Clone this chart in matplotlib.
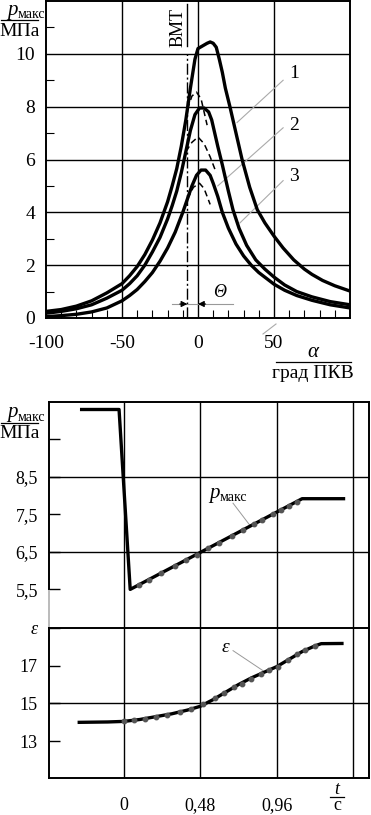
import matplotlib
matplotlib.use('Agg')
import matplotlib.pyplot as plt
from matplotlib.lines import Line2D

plt.rcParams['font.family'] = ['Liberation Serif', 'DejaVu Serif']

W, H = 371, 815

# --- верхний график: давление по углу ПКВ ---
alpha_1 = [-100, -90, -80, -70, -60, -50, -45, -40, -35, -30, -25, -20, -17, -14, -11, -8, -5, -2, 0, 3, 6, 8, 10, 12, 14, 16, 18, 21, 25, 29, 34, 39, 44, 50, 56, 63, 70, 75, 82, 90, 100]
p_1 = [0.25, 0.32, 0.45, 0.65, 0.95, 1.3, 1.6, 1.95, 2.4, 2.95, 3.6, 4.4, 5.0, 5.65, 6.5, 7.5, 8.7, 9.8, 10.2, 10.3, 10.4, 10.45, 10.4, 10.25, 9.8, 9.3, 8.7, 8.0, 7.0, 6.0, 4.95, 4.1, 3.6, 3.1, 2.65, 2.2, 1.85, 1.65, 1.42, 1.22, 1.02]

alpha_2 = [-100, -90, -80, -70, -60, -50, -45, -40, -35, -30, -25, -20, -17, -14, -11, -8, -5, -2, 1, 4, 7, 9, 11, 13, 16, 20, 23, 27, 32, 38, 44, 50, 57, 65, 75, 87, 100]
p_2 = [0.18, 0.25, 0.35, 0.5, 0.75, 1.05, 1.3, 1.6, 2.0, 2.5, 3.05, 3.75, 4.25, 4.8, 5.5, 6.3, 7.1, 7.7, 7.95, 7.95, 7.8, 7.5, 7.0, 6.5, 5.8, 4.8, 4.1, 3.4, 2.75, 2.2, 1.85, 1.55, 1.25, 1.0, 0.8, 0.62, 0.5]

alpha_3 = [-100, -90, -80, -70, -60, -50, -45, -40, -35, -30, -25, -20, -15, -10, -7, -4, -1, 2, 5, 8, 10, 13, 16, 20, 25, 30, 35, 40, 45, 50, 57, 65, 75, 87, 100]
p_3 = [0.05, 0.09, 0.14, 0.23, 0.38, 0.65, 0.85, 1.08, 1.38, 1.72, 2.15, 2.65, 3.25, 4.0, 4.5, 5.0, 5.4, 5.6, 5.6, 5.4, 5.1, 4.6, 4.0, 3.4, 2.8, 2.35, 2.0, 1.72, 1.5, 1.28, 1.05, 0.85, 0.67, 0.5, 0.38]

# прокрутка без сгорания (штриховые)
alpha_m1 = [-7, -4, -1, 2, 4, 6]
p_m1 = [7.9, 8.4, 8.55, 8.3, 7.8, 7.3]
alpha_m2 = [-8, -4, 0, 4, 8, 12]
p_m2 = [6.3, 6.65, 6.85, 6.6, 6.1, 5.5]
alpha_m3 = [-7, -3, 1, 4, 6, 8]
p_m3 = [4.5, 4.95, 5.1, 4.9, 4.6, 4.3]

alpha_vmt = -7
x_ticks_top = [-100, -50, 0, 50]
y_ticks_top = [0, 2, 4, 6, 8, 10]

# --- нижний график: переходный процесс ---
t_p = [-0.265, -0.03, 0.04, 1.12, 1.38]
p_max = [10.3, 10.3, 5.5, 7.92, 7.92]
t_p_exp = [0.094, 0.157, 0.233, 0.32, 0.39, 0.46, 0.53, 0.6, 0.68, 0.75, 0.82, 0.87, 0.94, 0.99, 1.04, 1.09]
p_exp = [5.62, 5.76, 5.95, 6.12, 6.28, 6.43, 6.6, 6.74, 6.93, 7.08, 7.25, 7.35, 7.5, 7.62, 7.73, 7.84]

t_eps = [-0.28, -0.1, 0.0, 0.1, 0.2, 0.3, 0.4, 0.48, 0.56, 0.64, 0.72, 0.8, 0.88, 0.96, 1.04, 1.12, 1.2, 1.24, 1.37]
eps = [14.0, 14.02, 14.05, 14.15, 14.3, 14.45, 14.65, 14.85, 15.2, 15.6, 16.0, 16.35, 16.65, 16.95, 17.35, 17.75, 18.05, 18.17, 18.18]
t_eps_exp = [0.0, 0.066, 0.13, 0.2, 0.27, 0.35, 0.42, 0.5, 0.57, 0.63, 0.69, 0.74, 0.8, 0.86, 0.91, 0.97, 1.03, 1.09, 1.14, 1.2]
eps_exp = [14.05, 14.12, 14.2, 14.28, 14.4, 14.55, 14.7, 14.98, 15.3, 15.55, 15.85, 16.05, 16.3, 16.55, 16.75, 16.95, 17.3, 17.6, 17.85, 18.05]

t_ticks = [0, 0.48, 0.96, 1.44]
t_labels = ['0', '0,48', '0,96', '']


def fx(x):
    return x / W


def fy(y):
    return 1 - y / H


def frac_label(x_p, y_p, x_line, y_line, y_unit, unit, fs_unit=14):
    # p_макс / единица в углу оси
    fig.text(fx(x_p), fy(y_p), 'p', style='italic', fontsize=15, ha='right', va='center')
    fig.text(fx(x_p), fy(y_p + 4), 'макс', fontsize=10, ha='left', va='center')
    fig.add_artist(Line2D([fx(x_line[0]), fx(x_line[1])], [fy(y_line), fy(y_line)],
                          color='black', lw=0.9))
    fig.text(fx(sum(x_line) / 2), fy(y_unit), unit, fontsize=fs_unit, ha='center', va='center')


fig = plt.figure(figsize=(W / 100, H / 100), dpi=100)

# ===================== верхний график =====================
ax = fig.add_axes([fx(46), fy(318), fx(304), 317 / H])
ax.set_xlim(-100, 100)
ax.set_ylim(0, 12)

for a in [-50, 0, 50]:
    ax.axvline(a, color='black', lw=1.0, zorder=1)
for v in [2, 4, 6, 8, 10]:
    ax.axhline(v, color='black', lw=1.0, zorder=1)

for s in ax.spines.values():
    s.set_linewidth(1.4)

ax.plot(alpha_1, p_1, color='black', lw=2.4, zorder=3, solid_joinstyle='round')
ax.plot(alpha_2, p_2, color='black', lw=2.4, zorder=3, solid_joinstyle='round')
ax.plot(alpha_3, p_3, color='black', lw=2.4, zorder=3, solid_joinstyle='round')
for a_m, p_m in [(alpha_m1, p_m1), (alpha_m2, p_m2), (alpha_m3, p_m3)]:
    ax.plot(a_m, p_m, color='black', lw=1.1, ls=(0, (4, 2.5)), zorder=3)

# ВМТ
ax.plot([alpha_vmt, alpha_vmt], [0, 10.0], color='black', lw=1.0,
        ls=(0, (8, 2, 1.5, 2)), zorder=2)
ax.plot([alpha_vmt, alpha_vmt], [10.3, 11.9], color='black', lw=1.0, zorder=2)
ax.text(-13, 11.0, 'ВМТ', rotation=90, ha='center', va='center', fontsize=13)

# угол опережения
ax.plot([-17, 23], [0.53, 0.53], color='#999999', lw=0.8, zorder=2)
ax.annotate('', xy=(alpha_vmt, 0.53), xytext=(-12, 0.53),
            arrowprops=dict(arrowstyle='-|>', color='black', lw=0.8,
                            mutation_scale=9, shrinkA=0, shrinkB=0))
ax.annotate('', xy=(0, 0.53), xytext=(5, 0.53),
            arrowprops=dict(arrowstyle='-|>', color='black', lw=0.8,
                            mutation_scale=9, shrinkA=0, shrinkB=0))
ax.text(14.5, 0.95, 'Θ', style='italic', ha='center', va='center', fontsize=13)

# выноски 1, 2, 3
for (x0, y0, x1, y1), lab, ly in [((56, 9.0, 25.7, 7.4), '1', 9.25),
                                  ((56, 7.2, 13, 5.0), '2', 7.3),
                                  ((56, 5.2, 27.6, 3.6), '3', 5.35)]:
    ax.plot([x0, x1], [y0, y1], color='#aaaaaa', lw=0.8, zorder=2)
    ax.text(63, ly, lab, ha='center', va='center', fontsize=14)

ax.set_xticks(x_ticks_top)
ax.set_xticklabels(['-100', '-50', '0', '50'])
ax.set_xticks(range(-90, 100, 10), minor=True)
ax.set_yticks(y_ticks_top)
ax.set_yticks([1, 3, 5, 7, 9, 11], minor=True)
ax.tick_params(axis='both', which='major', length=0, labelsize=14)
ax.tick_params(axis='x', which='major', pad=12)
ax.tick_params(axis='y', which='major', pad=8)
ax.tick_params(axis='both', which='minor', direction='in', length=6, width=0.8)

frac_label(18, 10, (1, 38), 20, 31, 'МПа')

fig.text(fx(313), fy(353), 'α', style='italic', fontsize=15, ha='center', va='center')
fig.add_artist(Line2D([fx(276), fx(351)], [fy(362), fy(362)], color='black', lw=0.9))
fig.text(fx(313), fy(373), 'град ПКВ', fontsize=14, ha='center', va='center')
fig.add_artist(Line2D([fx(263), fx(276)], [fy(334), fy(324)], color='#aaaaaa', lw=0.8))

# ===================== нижний график =====================
ax1 = fig.add_axes([fx(49), fy(628), fx(320), 226 / H])
ax2 = fig.add_axes([fx(49), fy(778), fx(320), 150 / H])

for a_ in (ax1, ax2):
    a_.set_xlim(-0.47, 1.54)
    for t in t_ticks:
        a_.axvline(t, color='black', lw=1.0, zorder=1)
    for s in a_.spines.values():
        s.set_linewidth(1.4)

ax1.set_ylim(4.47, 10.5)
ax1.spines['bottom'].set_visible(False)
ax1.spines['left'].set_bounds(5.5, 10.5)
ax1.plot([-0.47, -0.47], [4.47, 5.5], color='#bbbbbb', lw=1.4, clip_on=False)
for v in [8.5, 6.5]:
    ax1.axhline(v, color='black', lw=1.0, zorder=1)
ax1.plot(t_p, p_max, color='black', lw=2.4, zorder=3)
ax1.plot(t_p_exp, p_exp, ls='none', marker='o', ms=3.2, color='#555555', zorder=4)
ax1.set_xticks([])
ax1.set_yticks([5.5, 6.5, 7.5, 8.5, 9.5])
ax1.set_yticklabels(['5,5', '6,5', '7,5', '8,5', ''])
ax1.tick_params(axis='y', direction='in', length=8, width=1.0, labelsize=13, pad=8)

ax1.text(0.605, 8.05, 'p', style='italic', fontsize=15, ha='right', va='center')
ax1.text(0.605, 7.95, 'макс', fontsize=10, ha='left', va='center')
ax1.plot([0.686, 0.79], [7.8, 7.22], color='#999999', lw=0.7)

ax2.set_ylim(11.05, 19.0)
ax2.axhline(15, color='black', lw=1.0, zorder=1)
ax2.plot(t_eps, eps, color='black', lw=2.4, zorder=3)
ax2.plot(t_eps_exp, eps_exp, ls='none', marker='o', ms=3.2, color='#555555', zorder=4)
ax2.set_yticks([13, 15, 17, 19])
ax2.set_yticklabels(['13', '15', '17', 'ε'])
ax2.get_yticklabels()[-1].set_fontstyle('italic')
ax2.set_xticks(t_ticks)
ax2.set_xticklabels(t_labels)
ax2.tick_params(axis='y', direction='in', length=8, width=1.0, labelsize=13, pad=8)
ax2.tick_params(axis='x', length=0, labelsize=13, pad=14)

ax2.text(0.635, 17.95, 'ε', style='italic', fontsize=14, ha='center', va='center')
ax2.plot([0.686, 0.874], [17.8, 16.74], color='#999999', lw=0.7)

frac_label(18, 413, (1, 38), 423, 434, 'МПа')

fig.text(fx(337), fy(789), 't', style='italic', fontsize=13, ha='center', va='center')
fig.add_artist(Line2D([fx(330), fx(344)], [fy(797), fy(797)], color='black', lw=0.9))
fig.text(fx(337), fy(806), 'c', fontsize=13, ha='center', va='center')

fig.savefig('out.png', dpi=100)
